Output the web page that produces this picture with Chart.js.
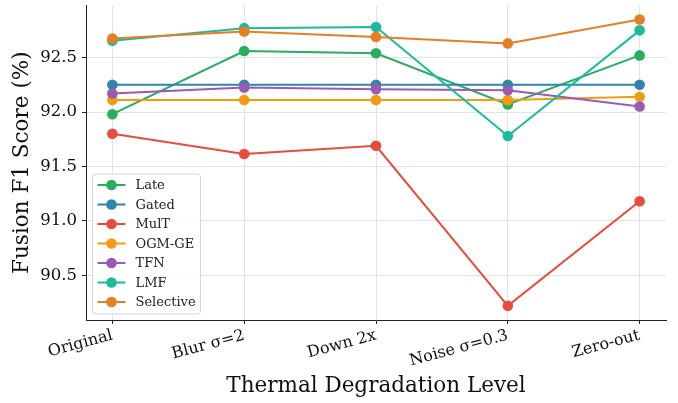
<!DOCTYPE html>
<html>
<head>
<meta charset="utf-8">
<script src="https://cdn.jsdelivr.net/npm/chart.js@4.4.1/dist/chart.umd.min.js"></script>
<style>
  html, body { margin: 0; padding: 0; background: #fff; }
  #wrap { width: 678px; height: 403px; }
</style>
</head>
<body>
<div id="wrap"><canvas id="chart" width="678" height="403"></canvas></div>
<script>
const levels = ['Original', 'Blur σ=2', 'Down 2x', 'Noise σ=0.3', 'Zero-out'];
const yTicks = [90.5, 91.0, 91.5, 92.0, 92.5];

const methods = ['Late', 'Gated', 'MulT', 'OGM-GE', 'TFN', 'LMF', 'Selective'];
const colors = ['#27ae60', '#2e86ab', '#e74c3c', '#f39c12', '#9b59b6', '#1abc9c', '#e67e22'];

const late = [91.98, 92.56, 92.54, 92.07, 92.52];
const gated = [92.25, 92.25, 92.25, 92.25, 92.25];
const mult = [91.80, 91.615, 91.69, 90.22, 91.18];
const ogmge = [92.11, 92.11, 92.11, 92.11, 92.14];
const tfn = [92.17, 92.225, 92.21, 92.20, 92.05];
const lmf = [92.655, 92.77, 92.78, 91.78, 92.75];
const selective = [92.675, 92.74, 92.69, 92.63, 92.85];

const series = [late, gated, mult, ogmge, tfn, lmf, selective];

const FONT = "'DejaVu Serif', serif";

// légende dessinée dans la zone du graphique, en bas à gauche
const insideLegend = {
    id: 'insideLegend',
    afterDatasetsDraw(chart) {
        const ctx = chart.ctx;
        const area = chart.chartArea;
        const sets = chart.data.datasets;
        const rowH = 19.5;
        const w = 108;
        const h = (sets.length - 1) * rowH + 23;
        const x0 = area.left + 6.5;
        const y0 = area.bottom - 6 - h;
        ctx.save();
        ctx.beginPath();
        ctx.roundRect(x0, y0, w, h, 3);
        ctx.fillStyle = 'rgba(255,255,255,0.8)';
        ctx.fill();
        ctx.strokeStyle = '#d6d6d6';
        ctx.lineWidth = 1;
        ctx.stroke();
        ctx.font = '13px ' + FONT;
        ctx.textBaseline = 'middle';
        sets.forEach((ds, i) => {
            const cy = y0 + 11 + i * rowH;
            ctx.strokeStyle = ds.borderColor;
            ctx.lineWidth = 2;
            ctx.beginPath();
            ctx.moveTo(x0 + 5, cy);
            ctx.lineTo(x0 + 33, cy);
            ctx.stroke();
            ctx.fillStyle = ds.borderColor;
            ctx.beginPath();
            ctx.arc(x0 + 19, cy, 5.3, 0, Math.PI * 2);
            ctx.fill();
            ctx.fillStyle = '#222';
            ctx.fillText(ds.label, x0 + 43, cy + 1);
        });
        ctx.restore();
    }
};

const datasets = methods.map((m, i) => ({
    label: m,
    data: series[i].map((v, j) => ({ x: j, y: v })),
    borderColor: colors[i],
    backgroundColor: colors[i],
    pointBackgroundColor: colors[i],
    pointBorderWidth: 0,
    pointRadius: 5.3,
    pointHoverRadius: 5.3,
    borderWidth: 2,
    tension: 0,
    order: methods.length - i
}));

new Chart(document.getElementById('chart'), {
    type: 'line',
    data: { datasets },
    plugins: [insideLegend],
    options: {
        responsive: false,
        animation: false,
        layout: { padding: { left: 0, right: 12, top: 5, bottom: 0 } },
        plugins: {
            legend: { display: false },
            tooltip: { enabled: false }
        },
        scales: {
            x: {
                type: 'linear',
                min: -0.2,
                max: 4.2,
                afterBuildTicks: s => { s.ticks = levels.map((_, i) => ({ value: i })); },
                afterFit: s => { s.height = 83; },
                ticks: {
                    callback: v => levels[v],
                    minRotation: 15,
                    maxRotation: 15,
                    padding: 2,
                    color: '#111',
                    font: { family: FONT, size: 16 }
                },
                grid: { color: '#e3e3e3', tickColor: '#222', tickLength: 4 },
                border: { color: '#222', width: 1 },
                title: {
                    display: true,
                    text: 'Thermal Degradation Level',
                    color: '#111',
                    font: { family: FONT, size: 21.5 },
                    padding: { top: 0, bottom: 4 }
                }
            },
            y: {
                min: 90.09,
                max: 92.98,
                afterBuildTicks: s => { s.ticks = yTicks.map(v => ({ value: v })); },
                afterFit: s => { s.width = 86; s.paddingTop = 0; s.paddingBottom = 0; },
                ticks: {
                    callback: v => v.toFixed(1),
                    padding: 5,
                    color: '#111',
                    font: { family: FONT, size: 16.5 }
                },
                grid: { color: '#e3e3e3', tickColor: '#222', tickLength: 4 },
                border: { color: '#222', width: 1 },
                title: {
                    display: true,
                    text: 'Fusion F1 Score (%)',
                    color: '#111',
                    font: { family: FONT, size: 21.5 },
                    padding: { top: 10, bottom: 0 }
                }
            }
        }
    }
});
</script>
</body>
</html>
